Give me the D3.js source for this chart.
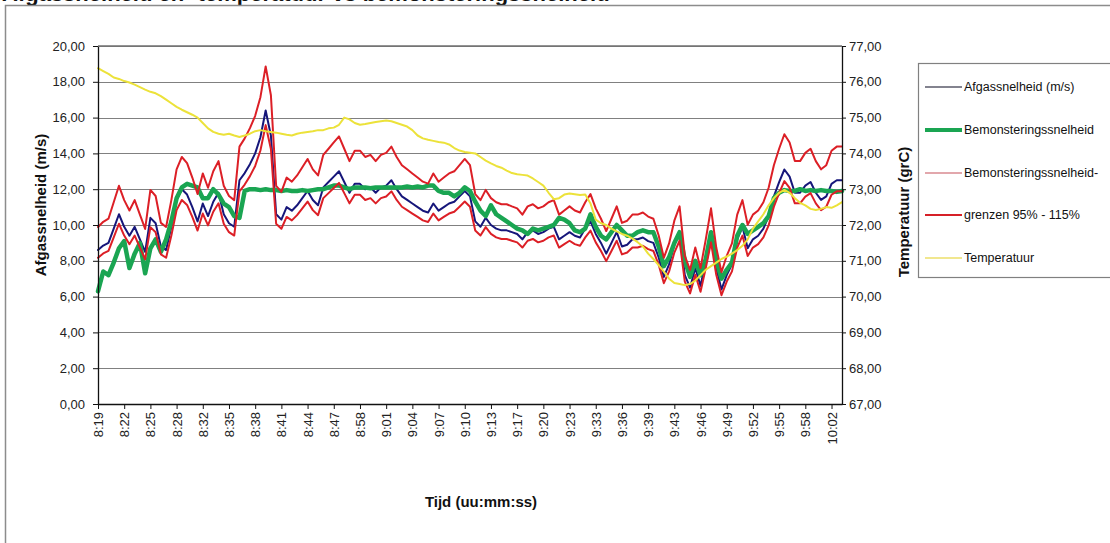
<!DOCTYPE html>
<html>
<head>
<meta charset="utf-8">
<script src="https://cdn.jsdelivr.net/npm/d3@7"></script>
<style>
  html, body { margin: 0; padding: 0; background: #fff; overflow: hidden; }
  svg { display: block; font-family: 'Liberation Sans', Arial, sans-serif; }
</style>
</head>
<body>
<div id="chart"></div>
<script>
// Tick labels on the category axis (one every 5 samples)
const TIJD_LABELS = ['8:19','8:22','8:25','8:28','8:32','8:35','8:38','8:41','8:44','8:47',
  '8:58','9:01','9:04','9:07','9:10','9:13','9:17','9:20','9:23','9:33','9:36','9:39',
  '9:43','9:46','9:49','9:52','9:55','9:58','10:02'];
const LABEL_EVERY = 5;

// Afgassnelheid (m/s)
const AFGAS = [8.6,8.85,9.0,9.8,10.6,9.9,9.4,9.9,9.2,8.5,
  10.4,10.1,8.8,8.6,9.9,11.4,12.0,11.7,11.0,10.2,
  11.2,10.5,11.3,11.8,10.6,10.1,9.9,12.5,12.9,13.4,
  14.0,14.9,16.4,15.0,10.6,10.3,11.0,10.8,11.1,11.5,
  11.9,11.4,11.1,12.1,12.4,12.7,13.0,12.4,11.8,12.3,
  12.3,12.0,12.1,11.8,12.1,12.2,12.5,12.0,11.6,11.4,
  11.2,11.0,10.8,10.7,11.2,10.8,11.0,11.2,11.3,11.6,
  11.9,11.6,10.2,9.9,10.4,10.0,9.8,9.7,9.7,9.6,
  9.5,9.2,9.6,9.7,9.5,9.6,9.8,9.9,9.2,9.4,
  9.6,9.4,9.3,9.8,10.2,9.5,9.0,8.4,9.0,9.6,
  8.8,8.9,9.2,9.2,9.3,9.1,9.0,8.2,7.1,7.8,
  8.9,9.6,7.2,6.5,7.6,6.6,8.0,9.5,7.6,6.4,
  7.2,7.8,9.2,9.9,8.7,9.2,9.4,9.8,10.5,11.6,
  12.4,13.1,12.7,11.8,11.8,12.2,12.4,11.8,11.4,11.6,
  12.3,12.5,12.5];

// Bemonsteringssnelheid (m/s)
const BEMONST = [6.3,7.4,7.2,7.9,8.7,9.1,7.6,8.4,9.0,7.3,
  8.7,9.2,8.5,9.2,10.2,11.5,12.1,12.3,12.2,12.1,
  11.5,11.5,12.0,11.7,11.2,11.0,10.5,10.4,11.9,12.0,
  12.0,11.95,12.0,11.95,11.95,11.9,11.95,11.9,11.9,11.95,
  11.9,11.95,12.0,12.0,12.1,12.2,12.2,12.1,12.0,12.1,
  12.1,12.1,12.05,12.1,12.1,12.1,12.1,12.1,12.1,12.15,
  12.1,12.15,12.1,12.2,12.2,11.9,11.8,11.8,11.6,11.8,
  12.1,11.9,11.3,10.8,10.5,11.1,10.6,10.4,10.2,10.0,
  9.8,9.7,9.5,9.8,9.7,9.8,9.9,10.0,10.4,10.3,
  10.1,9.7,9.6,9.8,10.6,9.9,9.4,9.2,9.6,10.0,
  9.7,9.4,9.4,9.6,9.7,9.6,9.6,8.8,7.7,8.2,
  9.0,9.6,8.0,7.1,8.0,7.2,8.1,9.6,8.0,7.0,
  7.5,7.9,9.4,10.0,9.5,9.7,9.9,10.1,10.5,11.5,
  11.8,11.95,11.9,11.9,12.0,11.9,11.95,11.9,11.95,11.9,
  11.9,11.85,11.9];

// Bemonsteringssnelheid-grenzen 95% (lower)
const GRENS_LAAG = [8.17,8.41,8.55,9.31,10.07,9.41,8.93,9.41,8.74,8.08,
  9.88,9.60,8.36,8.17,9.41,10.83,11.40,11.12,10.45,9.69,
  10.64,9.98,10.74,11.21,10.07,9.60,9.41,11.88,12.26,12.73,
  13.30,14.16,15.58,14.25,10.07,9.79,10.45,10.26,10.55,10.93,
  11.31,10.83,10.55,11.50,11.78,12.07,12.35,11.78,11.21,11.69,
  11.69,11.40,11.50,11.21,11.50,11.59,11.88,11.40,11.02,10.83,
  10.64,10.45,10.26,10.17,10.64,10.26,10.45,10.64,10.74,11.02,
  11.31,11.02,9.69,9.41,9.88,9.50,9.31,9.22,9.22,9.12,
  9.03,8.74,9.12,9.22,9.03,9.12,9.31,9.41,8.74,8.93,
  9.12,8.93,8.84,9.31,9.69,9.03,8.55,7.98,8.55,9.12,
  8.36,8.46,8.74,8.74,8.84,8.65,8.55,7.79,6.75,7.41,
  8.46,9.12,6.84,6.18,7.22,6.27,7.60,9.03,7.22,6.08,
  6.84,7.41,8.74,9.41,8.27,8.74,8.93,9.31,9.98,11.02,
  11.78,12.45,12.07,11.21,11.21,11.59,11.78,11.21,10.83,11.02,
  11.69,11.88,11.88];

// Bemonsteringssnelheid-grenzen 115% (upper)
const GRENS_HOOG = [9.89,10.18,10.35,11.27,12.19,11.39,10.81,11.39,10.58,9.78,
  11.96,11.62,10.12,9.89,11.39,13.11,13.80,13.46,12.65,11.73,
  12.88,12.08,13.00,13.57,12.19,11.62,11.39,14.38,14.84,15.41,
  16.10,17.14,18.86,17.25,12.19,11.85,12.65,12.42,12.77,13.23,
  13.69,13.11,12.77,13.92,14.26,14.61,14.95,14.26,13.57,14.15,
  14.15,13.80,13.92,13.57,13.92,14.03,14.38,13.80,13.34,13.11,
  12.88,12.65,12.42,12.31,12.88,12.42,12.65,12.88,13.00,13.34,
  13.69,13.34,11.73,11.39,11.96,11.50,11.27,11.16,11.16,11.04,
  10.93,10.58,11.04,11.16,10.93,11.04,11.27,11.39,10.58,10.81,
  11.04,10.81,10.70,11.27,11.73,10.93,10.35,9.66,10.35,11.04,
  10.12,10.24,10.58,10.58,10.70,10.47,10.35,9.43,8.17,8.97,
  10.24,11.04,8.28,7.48,8.74,7.59,9.20,10.93,8.74,7.36,
  8.28,8.97,10.58,11.39,10.01,10.58,10.81,11.27,12.08,13.34,
  14.26,15.07,14.61,13.57,13.57,14.03,14.26,13.57,13.11,13.34,
  14.15,14.38,14.38];

// Temperatuur (grC), right axis
const TEMP = [76.38,76.3,76.22,76.12,76.08,76.02,75.98,75.92,75.85,75.78,
  75.72,75.68,75.6,75.5,75.4,75.3,75.22,75.15,75.08,75.0,
  74.85,74.7,74.6,74.55,74.52,74.55,74.5,74.46,74.5,74.55,
  74.62,74.65,74.62,74.6,74.58,74.55,74.52,74.5,74.55,74.58,
  74.6,74.62,74.65,74.65,74.7,74.72,74.8,75.0,74.95,74.85,
  74.8,74.82,74.85,74.88,74.9,74.92,74.9,74.85,74.8,74.75,
  74.65,74.5,74.42,74.38,74.35,74.32,74.3,74.25,74.15,74.08,
  74.04,74.02,74.0,73.9,73.8,73.72,73.65,73.6,73.52,73.45,
  73.42,73.4,73.38,73.3,73.2,73.1,72.9,72.72,72.75,72.85,
  72.88,72.86,72.84,72.85,72.6,72.15,72.05,72.0,71.9,71.82,
  71.75,71.7,71.62,71.52,71.4,71.2,71.05,70.88,70.7,70.5,
  70.38,70.35,70.32,70.35,70.45,70.6,70.75,70.85,70.95,71.05,
  71.12,71.2,71.3,71.42,71.6,71.9,72.1,72.3,72.55,72.75,
  72.9,72.98,72.9,72.75,72.62,72.55,72.45,72.42,72.45,72.5,
  72.48,72.55,72.64];

const LEFT_TICKS = [0, 2, 4, 6, 8, 10, 12, 14, 16, 18, 20];
const RIGHT_TICKS = [67, 68, 69, 70, 71, 72, 73, 74, 75, 76, 77];

const LEGEND = [
  { name: 'Afgassnelheid (m/s)',     color: '#5a5a6a', width: 1.5 },
  { name: 'Bemonsteringssnelheid',   color: '#1aa552', width: 4 },
  { name: 'Bemonsteringssnelheid-',  color: '#d98a90', width: 1.5 },
  { name: 'grenzen 95% - 115%',      color: '#d62028', width: 2 },
  { name: 'Temperatuur',             color: '#ecdf6a', width: 1.5 },
];

(function () {
  'use strict';

  const W = 1110, H = 543;
  const plot = { left: 98, right: 842, top: 46, bottom: 404 };
  const fmt = d => d.toFixed(2).replace('.', ',');

  const svg = d3.select('#chart').append('svg')
    .attr('width', W).attr('height', H);

  svg.append('rect').attr('width', W).attr('height', H).attr('fill', '#fff');

  // chart title (cut off at top edge)
  svg.append('text')
    .attr('x', 2).attr('y', 1)
    .attr('font-size', 22).attr('font-weight', 'bold').attr('fill', '#111')
    .text('Afgassnelheid en -temperatuur vs bemonsteringssnelheid');

  // outer chart frame
  svg.append('rect')
    .attr('x', 5.5).attr('y', 5.5).attr('width', W + 20).attr('height', H + 20)
    .attr('fill', 'none').attr('stroke', '#8c8c8c').attr('stroke-width', 1.5);

  const n = AFGAS.length;
  const x = d3.scaleLinear().domain([0, n - 1]).range([plot.left, plot.right]);
  const yL = d3.scaleLinear().domain([0, 20]).range([plot.bottom, plot.top]);
  const yR = d3.scaleLinear().domain([67, 77]).range([plot.bottom, plot.top]);

  // gridlines
  svg.append('g').selectAll('line')
    .data(LEFT_TICKS.filter(d => d > 0))
    .join('line')
      .attr('x1', plot.left).attr('x2', plot.right)
      .attr('y1', d => Math.round(yL(d)) + 0.5).attr('y2', d => Math.round(yL(d)) + 0.5)
      .attr('stroke', '#808080').attr('stroke-width', 1.2);

  // series
  const lineL = arr => d3.line().x((_, i) => x(i)).y(d => yL(d))(arr);
  const lineR = arr => d3.line().x((_, i) => x(i)).y(d => yR(d))(arr);

  const g = svg.append('g').attr('fill', 'none')
    .attr('stroke-linejoin', 'round').attr('stroke-linecap', 'round');
  g.append('path').attr('d', lineL(AFGAS)).attr('stroke', '#16167a').attr('stroke-width', 2);
  g.append('path').attr('d', lineL(BEMONST)).attr('stroke', '#1aa552').attr('stroke-width', 4.5);
  g.append('path').attr('d', lineL(GRENS_LAAG)).attr('stroke', '#dc1f26').attr('stroke-width', 2);
  g.append('path').attr('d', lineL(GRENS_HOOG)).attr('stroke', '#dc1f26').attr('stroke-width', 2);
  g.append('path').attr('d', lineR(TEMP)).attr('stroke', '#ece23a').attr('stroke-width', 2);

  // axes
  const axL = svg.append('g')
    .attr('transform', `translate(${plot.left},0)`)
    .call(d3.axisLeft(yL).tickValues(LEFT_TICKS).tickFormat(fmt).tickSize(5).tickPadding(8).tickSizeOuter(0));
  const axR = svg.append('g')
    .attr('transform', `translate(${plot.right},0)`)
    .call(d3.axisRight(yR).tickValues(RIGHT_TICKS).tickFormat(fmt).tickSize(4).tickPadding(3).tickSizeOuter(0));

  const labelIdx = TIJD_LABELS.map((_, k) => k * LABEL_EVERY);
  const axB = svg.append('g')
    .attr('transform', `translate(0,${plot.bottom})`)
    .call(d3.axisBottom(x).tickValues(labelIdx)
      .tickFormat((_, k) => TIJD_LABELS[k]).tickSize(5).tickSizeOuter(0));

  axB.selectAll('text')
    .attr('transform', 'translate(0,8) rotate(-90)')
    .attr('text-anchor', 'end')
    .attr('x', 0).attr('y', 0).attr('dy', '0.35em');

  [axL, axR, axB].forEach(ax => {
    ax.selectAll('path.domain').attr('stroke', '#111').attr('stroke-width', 1.3);
    ax.selectAll('.tick line').attr('stroke', '#111');
    ax.selectAll('text').attr('font-size', 13).attr('fill', '#222')
      .attr('font-family', "'Liberation Sans', Arial, sans-serif");
  });

  // plot top border
  svg.append('line')
    .attr('x1', plot.left).attr('x2', plot.right)
    .attr('y1', plot.top).attr('y2', plot.top)
    .attr('stroke', '#707070').attr('stroke-width', 1.5);

  // axis titles
  svg.append('text')
    .attr('transform', 'translate(46,205) rotate(-90)')
    .attr('text-anchor', 'middle')
    .attr('font-size', 15).attr('font-weight', 'bold').attr('fill', '#111')
    .text('Afgassnelheid (m/s)');
  svg.append('text')
    .attr('transform', 'translate(909,212) rotate(-90)')
    .attr('text-anchor', 'middle')
    .attr('font-size', 15).attr('font-weight', 'bold').attr('fill', '#111')
    .text('Temperatuur (grC)');
  svg.append('text')
    .attr('x', 481).attr('y', 507)
    .attr('text-anchor', 'middle')
    .attr('font-size', 15).attr('font-weight', 'bold').attr('fill', '#111')
    .text('Tijd (uu:mm:ss)');

  // legend
  const lg = svg.append('g');
  lg.append('rect')
    .attr('x', 918.5).attr('y', 63.5).attr('width', 220).attr('height', 214)
    .attr('fill', '#fff').attr('stroke', '#808080').attr('stroke-width', 1.2);
  const ys = [87, 130, 173, 215, 258];
  const items = lg.selectAll('g.item').data(LEGEND).join('g')
    .attr('class', 'item')
    .attr('transform', (_, i) => `translate(0,${ys[i]})`);
  items.append('line')
    .attr('x1', 925).attr('x2', 962)
    .attr('stroke', d => d.color).attr('stroke-width', d => d.width);
  items.append('text')
    .attr('x', 964).attr('dy', '0.35em')
    .attr('font-size', 12.5).attr('fill', '#111')
    .text(d => d.name);
})();
</script>
</body>
</html>
